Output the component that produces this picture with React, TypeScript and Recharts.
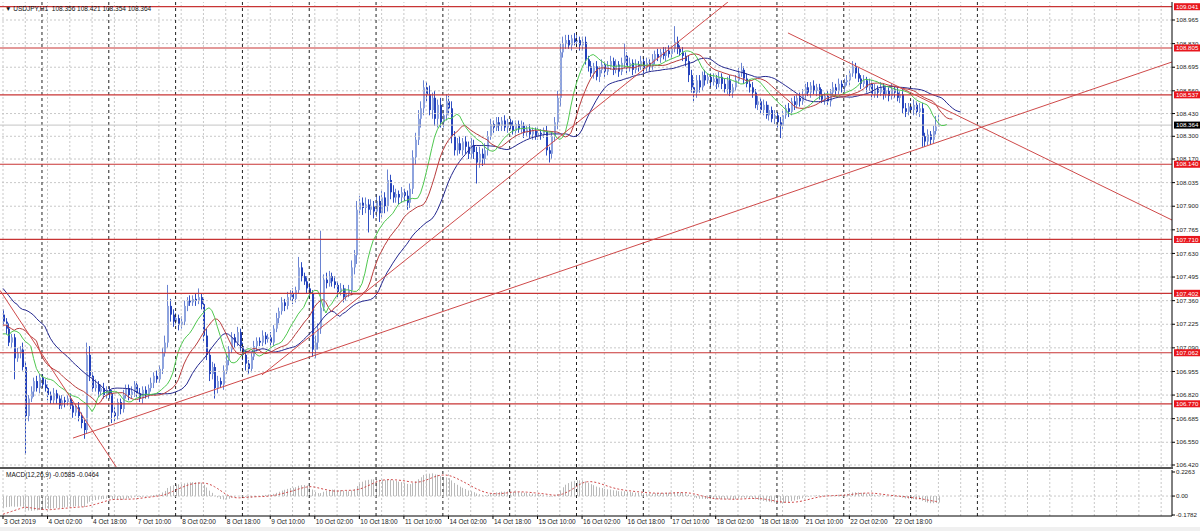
import React from "react";
import { ComposedChart, Bar, Line, XAxis, YAxis, ReferenceLine } from "recharts";

// USDJPY H1, 3 Oct 2019 10:00 .. 23 Oct 10:00 -- hourly closes
const oct03 = [107.24, 107.2, 107.12, 107.15, 107.03, 107.06, 107.08, 106.98, 106.7, 106.8, 106.84, 106.9, 106.86, 106.92];
const oct04 = [106.88, 106.86, 106.82, 106.79, 106.83, 106.8, 106.76, 106.79, 106.78, 106.8, 106.76, 106.72, 106.75, 106.7, 106.66, 106.62, 107.05, 106.93, 106.86, 106.88, 106.84, 106.86, 106.82, 106.85];
const oct07 = [106.83, 106.72, 106.7, 106.78, 106.74, 106.82, 106.86, 106.82, 106.84, 106.88, 106.83, 106.8, 106.85, 106.82, 106.86, 106.89, 106.93, 106.91, 106.97, 107.06, 107.12, 107.33, 107.28, 107.24];
const oct08 = [107.26, 107.22, 107.24, 107.33, 107.36, 107.35, 107.37, 107.36, 107.38, 107.34, 107.16, 107.05, 106.94, 106.98, 106.86, 106.9, 106.88, 106.96, 107.02, 107.08, 107.15, 107.12, 107.18, 107.1];
const oct09 = [107.05, 107.0, 106.97, 107.04, 107.1, 107.13, 107.12, 107.16, 107.14, 107.15, 107.12, 107.2, 107.26, 107.3, 107.35, 107.33, 107.38, 107.4, 107.37, 107.42, 107.55, 107.5, 107.47, 107.43];
const oct10 = [107.4, 107.08, 107.12, 107.2, 107.32, 107.48, 107.46, 107.5, 107.47, 107.45, 107.41, 107.43, 107.38, 107.4, 107.42, 107.55, 107.62, 107.88, 107.92, 107.89, 107.91, 107.88, 107.9, 107.87];
const oct11 = [107.93, 107.86, 107.95, 107.9, 108.05, 107.98, 107.95, 107.97, 107.95, 107.98, 107.96, 107.92, 108.0, 108.18, 108.28, 108.4, 108.46, 108.58, 108.54, 108.45, 108.52, 108.4, 108.48, 108.38];
const oct14 = [108.42, 108.5, 108.46, 108.3, 108.22, 108.26, 108.22, 108.27, 108.24, 108.2, 108.25, 108.21, 108.15, 108.2, 108.17, 108.22, 108.3, 108.37, 108.35, 108.38, 108.36, 108.39, 108.35, 108.38];
const oct15 = [108.36, 108.33, 108.37, 108.34, 108.36, 108.32, 108.34, 108.31, 108.33, 108.3, 108.32, 108.31, 108.33, 108.22, 108.2, 108.3, 108.38, 108.52, 108.78, 108.83, 108.85, 108.82, 108.86, 108.84];
const oct16 = [108.85, 108.82, 108.84, 108.74, 108.7, 108.66, 108.7, 108.64, 108.68, 108.71, 108.67, 108.7, 108.73, 108.68, 108.71, 108.67, 108.72, 108.76, 108.69, 108.72, 108.68, 108.71, 108.7, 108.73];
const oct17 = [108.69, 108.72, 108.7, 108.74, 108.77, 108.75, 108.78, 108.76, 108.79, 108.77, 108.8, 108.84, 108.8, 108.78, 108.76, 108.73, 108.65, 108.58, 108.55, 108.62, 108.58, 108.65, 108.62, 108.64];
const oct18 = [108.61, 108.63, 108.6, 108.64, 108.6, 108.57, 108.62, 108.55, 108.58, 108.62, 108.66, 108.68, 108.63, 108.6, 108.58, 108.55, 108.48, 108.5, 108.45, 108.48, 108.42, 108.45, 108.4, 108.42];
const oct21 = [108.38, 108.36, 108.42, 108.46, 108.44, 108.5, 108.48, 108.52, 108.5, 108.54, 108.58, 108.55, 108.59, 108.56, 108.58, 108.54, 108.51, 108.53, 108.5, 108.55, 108.58, 108.56, 108.6, 108.58];
const oct22 = [108.61, 108.62, 108.66, 108.7, 108.66, 108.63, 108.6, 108.62, 108.58, 108.6, 108.54, 108.57, 108.55, 108.58, 108.54, 108.56, 108.53, 108.57, 108.55, 108.52, 108.54, 108.46, 108.44, 108.47];
const oct23 = [108.45, 108.48, 108.44, 108.46, 108.3, 108.27, 108.31, 108.28, 108.33, 108.356, 108.364];
const firstOpen = 107.28;

// wicks, in hundredths of a yen above / below the body (one line per day)
const wickUp = [
  3, 2, 3, 2, 2, 3, 2, 4, 3, 2, 3, 2, 3, 2,
  2, 3, 2, 2, 3, 2, 2, 3, 2, 2, 3, 2, 2, 3, 2, 2, 7, 5, 2, 3, 2, 2, 3, 2,
  2, 2, 3, 2, 2, 3, 2, 2, 3, 2, 2, 3, 2, 2, 2, 3, 2, 3, 2, 3, 4, 12, 4, 3,
  3, 2, 3, 3, 2, 3, 2, 3, 5, 2, 3, 4, 3, 3, 2, 3, 2, 3, 3, 2, 3, 2, 3, 2,
  2, 3, 2, 2, 3, 2, 2, 3, 2, 2, 3, 2, 3, 2, 3, 2, 3, 2, 3, 2, 6, 3, 2, 3,
  3, 2, 4, 3, 44, 3, 4, 3, 2, 3, 2, 3, 2, 3, 3, 4, 3, 5, 4, 3, 4, 3, 4, 3,
  4, 3, 4, 3, 6, 3, 4, 3, 2, 3, 2, 3, 3, 4, 4, 5, 4, 4, 3, 5, 3, 4, 3, 4,
  3, 4, 3, 4, 3, 3, 4, 2, 3, 3, 4, 3, 3, 4, 3, 4, 3, 3, 2, 3, 3, 2, 3, 2,
  2, 3, 2, 2, 3, 2, 2, 3, 2, 2, 3, 2, 2, 3, 2, 3, 3, 4, 5, 4, 3, 3, 2, 3,
  3, 2, 3, 3, 2, 3, 2, 3, 2, 3, 2, 3, 3, 2, 3, 2, 3, 7, 2, 3, 2, 3, 2, 3,
  2, 3, 2, 3, 2, 3, 2, 3, 2, 3, 2, 9, 3, 2, 3, 2, 3, 3, 4, 3, 3, 2, 3, 2,
  2, 3, 2, 3, 2, 3, 2, 3, 2, 3, 3, 4, 2, 3, 2, 3, 2, 3, 2, 3, 2, 3, 2, 3,
  2, 3, 3, 2, 3, 2, 3, 2, 3, 3, 2, 3, 2, 3, 2, 2, 3, 2, 3, 2, 3, 2, 3, 2,
  2, 3, 2, 3, 2, 3, 2, 3, 2, 3, 2, 3, 2, 3, 2, 3, 2, 3, 2, 3, 2, 3, 3, 2,
  2, 3, 2, 3, 3, 2, 3, 2, 3, 6, 5.7,
];
const wickDn = [
  2, 3, 2, 3, 12, 2, 3, 2, 22, 3, 2, 3, 2, 3,
  2, 2, 3, 2, 2, 3, 2, 2, 3, 2, 2, 3, 2, 3, 3, 5, 2, 3, 2, 2, 3, 2, 2, 2,
  3, 6, 3, 2, 3, 2, 2, 3, 2, 3, 2, 2, 3, 2, 2, 2, 3, 2, 2, 3, 2, 3, 4, 3,
  2, 3, 2, 2, 3, 2, 2, 3, 2, 3, 4, 3, 4, 3, 6, 3, 2, 3, 2, 3, 2, 3, 2, 3,
  3, 4, 3, 2, 2, 3, 2, 2, 3, 2, 3, 2, 2, 3, 2, 3, 2, 2, 3, 2, 2, 3, 2, 3,
  3, 4, 5, 4, 3, 2, 3, 2, 3, 2, 3, 2, 3, 2, 2, 3, 4, 5, 3, 4, 3, 13, 3, 4,
  3, 5, 3, 4, 3, 4, 3, 3, 4, 3, 3, 4, 3, 3, 4, 3, 5, 4, 4, 3, 5, 4, 5, 3,
  3, 3, 4, 4, 3, 3, 2, 3, 4, 3, 3, 4, 12, 3, 4, 3, 3, 2, 3, 2, 3, 3, 2, 3,
  2, 2, 3, 2, 2, 3, 2, 2, 3, 2, 2, 3, 2, 3, 5, 3, 3, 4, 5, 3, 3, 2, 3, 2,
  2, 3, 3, 3, 3, 2, 3, 2, 3, 2, 3, 2, 2, 3, 2, 3, 2, 3, 3, 2, 3, 2, 3, 2,
  3, 2, 3, 2, 3, 2, 3, 2, 3, 2, 3, 2, 3, 2, 3, 3, 4, 3, 5, 3, 3, 2, 3, 2,
  3, 2, 3, 2, 3, 2, 3, 2, 3, 2, 2, 2, 3, 2, 3, 3, 2, 3, 2, 3, 2, 3, 2, 3,
  3, 7, 3, 2, 3, 2, 3, 2, 3, 2, 3, 2, 3, 2, 3, 3, 2, 3, 2, 3, 2, 3, 2, 3,
  3, 2, 3, 2, 3, 2, 3, 2, 3, 2, 3, 2, 3, 2, 3, 2, 3, 2, 3, 2, 3, 3, 3, 2,
  2, 3, 2, 3, 6, 3, 2, 3, 2, 2, 0.2,
];

// alligator values before the first bar (read from the left edge)
const jawLead = [107.43, 107.41, 107.39, 107.37, 107.35, 107.34, 107.32, 107.31];
const teethLead = [107.22, 107.22, 107.21, 107.2, 107.19];
const lipsLead = [107.17, 107.17, 107.16];
// MACD(12,26,9) starting state
const ema12Seed = 107.17;
const ema26Seed = 107.3;
const macdSeed = -0.178;

// drawn objects
const levels = [109.041, 108.805, 108.537, 108.14, 107.71, 107.402, 107.062, 106.77];
const lastPrice = 108.364;
// trend lines as [bar, price] pairs
const trendLines = [
  [[-1.08, 107.419], [40.9, 106.403]],
  [[25.14, 106.574], [419.9, 108.725]],
  [[93.0, 106.935], [260.4, 109.068]],
  [[281.96, 108.891], [419.9, 107.821]],
];

const priceTicks = [106.42, 106.55, 106.685, 106.82, 106.955, 107.09, 107.225, 107.36, 107.495, 107.63, 107.765, 107.9, 108.035, 108.17, 108.3, 108.43, 108.56, 108.695, 108.83, 108.965];
const dateLabels = ["3 Oct 2019", "4 Oct 02:00", "4 Oct 18:00", "7 Oct 10:00", "8 Oct 02:00", "8 Oct 18:00", "9 Oct 10:00", "10 Oct 02:00", "10 Oct 18:00", "11 Oct 10:00", "14 Oct 02:00", "14 Oct 18:00", "15 Oct 10:00", "16 Oct 02:00", "16 Oct 18:00", "17 Oct 10:00", "18 Oct 02:00", "18 Oct 18:00", "21 Oct 10:00", "22 Oct 02:00", "22 Oct 18:00"];
const daySlots = [14, 38, 62, 86, 110, 134, 158, 182, 206, 230, 254, 278, 302, 326, 350];

const FONT = "'Liberation Sans', 'DejaVu Sans', sans-serif";
const X0 = -1.0776;
const X1 = 419.9;
const Y0 = 106.4086;
const Y1 = 109.068;
const M0 = -0.1876;
const M1 = 0.2451;

const closes = [...oct03, ...oct04, ...oct07, ...oct08, ...oct09, ...oct10, ...oct11, ...oct14, ...oct15, ...oct16, ...oct17, ...oct18, ...oct21, ...oct22, ...oct23];

const bars = closes.map((c, i) => {
  const o = i === 0 ? firstOpen : closes[i - 1];
  return {
    open: o,
    close: c,
    high: Math.max(o, c) + wickUp[i] / 100,
    low: Math.min(o, c) - wickDn[i] / 100,
  };
});

function alligator(lead: number[], period: number) {
  const shift = lead.length;
  const out: (number | null)[] = new Array(bars.length + shift).fill(null);
  lead.forEach((v, k) => (out[k] = v));
  let s = lead[shift - 1];
  bars.forEach((b, i) => {
    s = (s * (period - 1) + (b.high + b.low) / 2) / period;
    out[i + shift] = s;
  });
  return out;
}
const jaw = alligator(jawLead, 13);
const teeth = alligator(teethLead, 8);
const lips = alligator(lipsLead, 5);

let e12 = ema12Seed;
let e26 = ema26Seed;
const macdMain = closes.map((c) => {
  e12 += ((c - e12) * 2) / 13;
  e26 += ((c - e26) * 2) / 27;
  return e12 - e26;
});
const macdSignal = macdMain.map((_, i) => {
  let s = 0;
  for (let k = i - 8; k <= i; k++) s += k >= 0 ? macdMain[k] : macdSeed;
  return s / 9;
});

const rows = jaw.map((_, i) => {
  const b = bars[i];
  return {
    i,
    range: b ? [b.low, b.high] : undefined,
    open: b?.open,
    close: b?.close,
    high: b?.high,
    low: b?.low,
    jaw: jaw[i],
    teeth: teeth[i],
    lips: lips[i],
  };
});
const macdRows = macdMain.map((m, i) => ({ i, macd: m, signal: macdSignal[i] }));

const gridSlots: number[] = [];
for (let s = 0; s <= 416; s += 8) gridSlots.push(s);
const labelSlots = dateLabels.map((_, k) => k * 16);

function Candle(props: any) {
  const { x, y, width, height, payload } = props;
  if (!payload || payload.high == null || !isFinite(y)) return null;
  const span = payload.high - payload.low;
  const at = (p: number) => y + (span > 0 ? ((payload.high - p) / span) * height : 0);
  const cx = Math.round(x + width / 2);
  const up = payload.close >= payload.open;
  const top = at(Math.max(payload.open, payload.close));
  const bot = at(Math.min(payload.open, payload.close));
  return (
    <g>
      <line x1={cx + 0.5} x2={cx + 0.5} y1={y} y2={y + height} stroke={up ? "#6a83d2" : "#2f4fc2"} strokeWidth={1} />
      <rect x={cx} y={top} width={2} height={Math.max(1, bot - top)} fill={up ? "#8ea3de" : "#2442bb"} />
    </g>
  );
}

function MacdStick(props: any) {
  const { x, y, width, height } = props;
  if (!isFinite(y)) return null;
  const cx = Math.round(x + width / 2) + 0.5;
  return <line x1={cx} x2={cx} y1={y} y2={y + height} stroke="#b9b9b9" strokeWidth={1} />;
}

function PriceTick(props: any) {
  const { x, y, payload } = props;
  const v = payload.value;
  if (levels.includes(v)) {
    return (
      <g>
        <rect x={x - 2} y={y - 3.5} width={27} height={7} fill="#e8161d" />
        <text x={x} y={y + 2.2} fontSize={6.2} fontFamily={FONT} fill="#fff">{v.toFixed(3)}</text>
      </g>
    );
  }
  if (v === lastPrice) {
    return (
      <g>
        <rect x={x - 2} y={y - 3.5} width={27} height={7} fill="#000" />
        <text x={x} y={y + 2.2} fontSize={6.2} fontFamily={FONT} fill="#fff">{v.toFixed(3)}</text>
      </g>
    );
  }
  return (
    <g>
      <line x1={x - 4} x2={x - 1} y1={y} y2={y} stroke="#000" />
      <text x={x} y={y + 2.2} fontSize={6.2} fontFamily={FONT} fill="#222">{v.toFixed(3)}</text>
    </g>
  );
}

function MacdTick(props: any) {
  const { x, y, payload } = props;
  const v = payload.value;
  const txt = v === 0 ? "0.00" : v.toFixed(4);
  return (
    <g>
      <line x1={x - 4} x2={x - 1} y1={y} y2={y} stroke="#000" />
      <text x={x} y={y + 2.2} fontSize={6.2} fontFamily={FONT} fill="#222">{txt}</text>
    </g>
  );
}

function DateTick(props: any) {
  const { x, y, payload } = props;
  const k = labelSlots.indexOf(payload.value);
  return (
    <text x={x + 1} y={y + 4} fontSize={6.5} fontFamily={FONT} fill="#222">{dateLabels[k]}</text>
  );
}

function gridLines(keyBase: string) {
  return [
    ...gridSlots.map((s) => (
      <ReferenceLine key={keyBase + "g" + s} x={s} stroke="#c8c8c8" strokeDasharray="2 2" />
    )),
    ...daySlots.map((s) => (
      <ReferenceLine key={keyBase + "d" + s} x={s} stroke="#222" strokeDasharray="3 3" />
    )),
  ];
}

export default function App() {
  return (
    <div style={{ position: "absolute", left: 0, top: 0, width: 1200, height: 531, background: "#fff", overflow: "hidden" }}>
      <ComposedChart width={1200} height={469} data={rows} margin={{ top: 2, right: 0, bottom: 2, left: 0 }}>
        <XAxis type="number" dataKey="i" domain={[X0, X1]} allowDataOverflow hide />
        <YAxis
          orientation="right"
          width={28}
          domain={[Y0, Y1]}
          allowDataOverflow
          ticks={[...priceTicks, ...levels, lastPrice]}
          interval={0}
          tick={<PriceTick />}
          tickLine={false}
          tickSize={0}
          tickMargin={4}
          axisLine={{ stroke: "#000" }}
        />
        {priceTicks.map((p) => (
          <ReferenceLine key={"h" + p} y={p} stroke="#c8c8c8" strokeDasharray="2 2" />
        ))}
        {gridLines("m")}
        <ReferenceLine y={lastPrice} stroke="#c4c4c4" />
        <Bar dataKey="range" barSize={3} shape={<Candle />} isAnimationActive={false} />
        <Line dataKey="jaw" stroke="#24288f" strokeWidth={1} dot={false} isAnimationActive={false} connectNulls />
        <Line dataKey="teeth" stroke="#b83c3c" strokeWidth={1} dot={false} isAnimationActive={false} connectNulls />
        <Line dataKey="lips" stroke="#4fc84f" strokeWidth={1} dot={false} isAnimationActive={false} connectNulls />
        {levels.map((p) => (
          <ReferenceLine key={"l" + p} y={p} stroke="#c83434" strokeWidth={1.2} />
        ))}
        {trendLines.map((t, k) => (
          <ReferenceLine
            key={"t" + k}
            segment={[{ x: t[0][0], y: t[0][1] }, { x: t[1][0], y: t[1][1] }]}
            stroke="#cf4a4a"
            strokeWidth={1}
            ifOverflow="hidden"
          />
        ))}
      </ComposedChart>

      <div style={{ position: "absolute", left: 0, top: 467, width: 1173, height: 2, background: "#555" }} />

      <div style={{ position: "absolute", left: 0, top: 469 }}>
        <ComposedChart width={1200} height={62} data={macdRows} margin={{ top: 1, right: 0, bottom: 0, left: 0 }}>
          <XAxis
            type="number"
            dataKey="i"
            domain={[X0, X1]}
            allowDataOverflow
            height={15}
            ticks={labelSlots}
            interval={0}
            tick={<DateTick />}
            tickSize={3}
            tickMargin={1}
            tickLine={{ stroke: "#000" }}
            axisLine={{ stroke: "#000" }}
          />
          <YAxis
            orientation="right"
            width={28}
            domain={[M0, M1]}
            allowDataOverflow
            ticks={[0.2263, 0, -0.1782]}
            interval={0}
            tick={<MacdTick />}
            tickLine={false}
            tickSize={0}
            tickMargin={4}
            axisLine={{ stroke: "#000" }}
          />
          {gridLines("c")}
          <ReferenceLine y={0} stroke="#c8c8c8" strokeDasharray="2 2" />
          <Bar dataKey="macd" barSize={1} shape={<MacdStick />} isAnimationActive={false} />
          <Line dataKey="signal" stroke="#d04848" strokeWidth={1} strokeDasharray="2 2" dot={false} isAnimationActive={false} />
        </ComposedChart>
      </div>

      <div style={{ position: "absolute", left: 5, top: 5, fontFamily: FONT, fontSize: 6.5, lineHeight: "8px", color: "#111", whiteSpace: "pre" }}>
        {"\u25BC USDJPY,H1  108.356 108.421 108.354 108.364"}
      </div>
      <div style={{ position: "absolute", left: 6, top: 471, fontFamily: FONT, fontSize: 6.5, lineHeight: "8px", color: "#111", whiteSpace: "pre" }}>
        {"MACD(12,26,9) -0.0585 -0.0464"}
      </div>
      <div style={{ position: "absolute", left: 0, top: 527, width: 1200, height: 4, background: "#f0f0f0" }} />
    </div>
  );
}
